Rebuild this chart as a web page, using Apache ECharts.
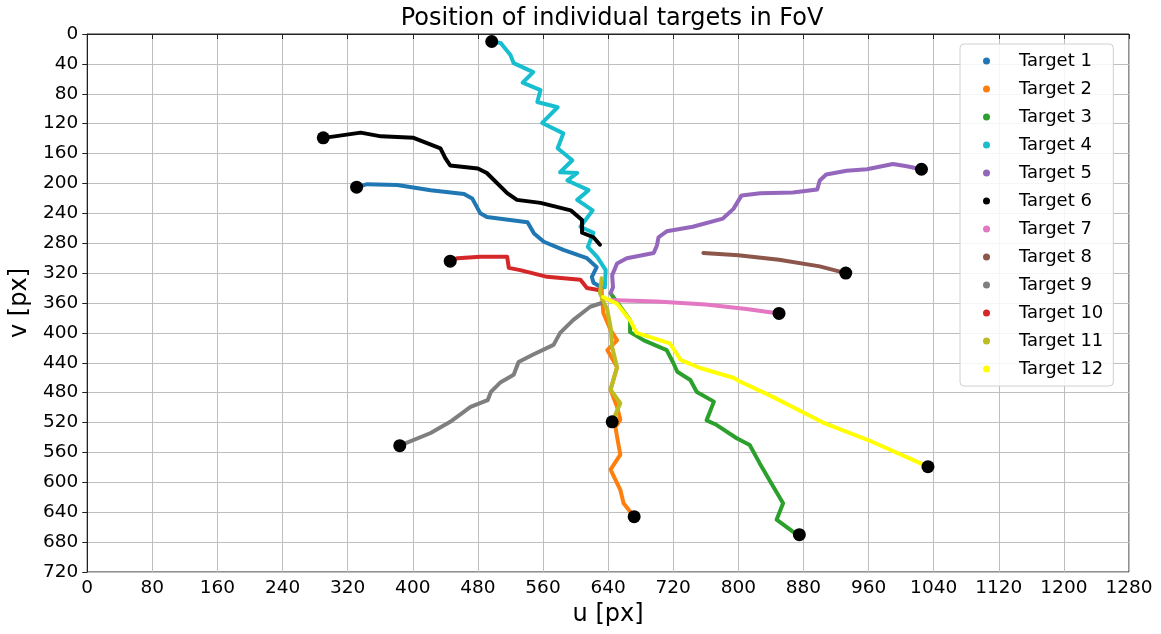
<!DOCTYPE html>
<html><head><meta charset="utf-8">
<script src="https://cdn.jsdelivr.net/npm/echarts@6/dist/echarts.min.js"></script>
<style>html,body{margin:0;padding:0;background:#fff}#c{width:1161px;height:634px}</style>
</head><body><div id="c"></div>
<script>
const xTicks = [0,80,160,240,320,400,480,560,640,720,800,880,960,1040,1120,1200,1280];
const yTicks = [0,40,80,120,160,200,240,280,320,360,400,440,480,520,560,600,640,680,720];
const names = ['Target 1','Target 2','Target 3','Target 4','Target 5','Target 6','Target 7','Target 8','Target 9','Target 10','Target 11','Target 12'];
const colors = ['#1f77b4','#ff7f0e','#2ca02c','#17becf','#9467bd','#000000','#e377c2','#8c564b','#7f7f7f','#d62728','#bcbd22','#ffff00'];

const target1 = [[331,205],[344,201],[381,202],[422,209],[463,214],[473,220],[483,240],[491,245],[541,252],[549,267],[561,278],[585,289],[614,300],[626,312],[620,325],[622,333],[633,340]];
const target2 = [[632,342],[634,373],[643,396],[651,410],[639,423],[651,446],[643,476],[651,499],[655,516],[649,526],[651,539],[655,563],[643,583],[655,610],[659,628],[672,646]];
const target3 = [[643,347],[667,383],[667,399],[684,410],[712,423],[720,440],[725,452],[741,463],[749,479],[770,492],[761,517],[773,523],[798,541],[814,550],[826,574],[843,606],[855,628],[847,650],[872,670],[875,670]];
const target4 = [[497,10],[508,12],[520,28],[524,39],[548,51],[535,65],[557,75],[553,91],[578,98],[559,119],[585,133],[578,153],[596,169],[581,185],[602,186],[590,196],[616,209],[602,222],[621,236],[606,258],[622,266],[615,285],[627,299],[637,316],[636,339]];
const target5 = [[643,347],[646,339],[645,323],[651,307],[663,300],[696,293],[700,283],[702,272],[712,264],[744,258],[781,247],[794,234],[804,216],[827,213],[867,212],[897,208],[900,196],[908,188],[933,183],[958,181],[990,174],[1007,177],[1025,181]];
const target6 = [[290,139],[304,137],[336,132],[361,137],[401,139],[434,153],[440,166],[446,176],[480,180],[491,186],[516,213],[528,222],[557,226],[594,236],[608,249],[608,266],[622,272],[630,282]];
const target7 = [[640,356],[700,358],[760,362],[810,368],[850,374]];
const target8 = [[757,293],[800,296],[850,302],[900,311],[932,320]];
const target9 = [[632,360],[618,365],[597,383],[581,400],[573,416],[548,429],[530,439],[524,456],[508,466],[496,479],[492,490],[471,499],[446,519],[422,534],[384,551]];
const target10 = [[446,304],[455,300],[483,298],[516,298],[518,313],[532,316],[565,325],[606,329],[614,340],[630,343]];
const target11 = [[632,327],[630,347],[639,369],[643,392],[645,419],[651,446],[643,476],[655,494],[646,517],[645,519]];
const target12 = [[634,352],[651,361],[667,383],[675,400],[716,414],[729,436],[753,447],[794,460],[802,465],[843,486],[904,520],[965,546],[1033,579]];
const endpoints = [[331,205],[672,646],[875,670],[497,10],[1025,181],[290,139],[850,374],[932,320],[384,551],[446,304],[645,519],[1033,579]];

const tracks = [target1,target2,target3,target4,target5,target6,target7,target8,target9,target10,target11,target12];
const FONT = 'DejaVu Sans';

const series = tracks.map((d,i)=>({
  name: names[i], type:'line', data:d, showSymbol:false, symbol:'circle',
  lineStyle:{color:colors[i], width:4, cap:'round', join:'round'},
  itemStyle:{color:colors[i]}, animation:false, z:2+i
}));
series.push({type:'scatter', name:'ends', data:endpoints, symbolSize:13, itemStyle:{color:'#000', opacity:1}, z:30, animation:false});

const chart = echarts.init(document.getElementById('c'));
chart.setOption({
  animation:false,
  backgroundColor:'#fff',
  title:{text:'Position of individual targets in FoV', left:607, top:2, textAlign:'center',
    textStyle:{fontFamily:FONT, fontSize:24, fontWeight:'normal', color:'#000'}},
  grid:{left:86, right:32, top:34, bottom:62, show:true, borderColor:'#222', borderWidth:1},
  legend:{data:names, orient:'vertical', left:960, top:44, icon:'circle', itemWidth:7, itemHeight:7, itemGap:10,
    padding:[8,10,8,23], backgroundColor:'rgba(255,255,255,0.85)', borderColor:'#d0d0d0', borderWidth:1, borderRadius:4,
    textStyle:{fontFamily:FONT, fontSize:18, lineHeight:18, color:'#000', padding:[0,0,0,24]}},
  xAxis:{type:'value', min:0, max:1280, interval:80, name:'u [px]', nameLocation:'middle', nameGap:30,
    nameTextStyle:{fontFamily:FONT, fontSize:24, color:'#000'},
    axisLine:{show:true, lineStyle:{color:'#222'}}, axisTick:{show:true, length:5, lineStyle:{color:'#222'}},
    axisLabel:{fontFamily:FONT, fontSize:18.5, color:'#000', margin:7, showMaxLabel:true, showMinLabel:true,
      formatter:(v)=>String(v)},
    splitLine:{show:true, lineStyle:{color:'#bebebe', width:1}}},
  yAxis:{type:'value', inverse:true, min:0, max:720, interval:40, name:'v [px]', nameLocation:'middle', nameGap:53,
    nameTextStyle:{fontFamily:FONT, fontSize:24, color:'#000'},
    axisLine:{show:true, lineStyle:{color:'#222'}}, axisTick:{show:true, length:5, lineStyle:{color:'#222'}},
    axisLabel:{fontFamily:FONT, fontSize:18.5, color:'#000', margin:9, showMaxLabel:true, showMinLabel:true,
      formatter:(v)=>String(v)},
    splitLine:{show:true, lineStyle:{color:'#bebebe', width:1}}},
  series: series
});
</script></body></html>
